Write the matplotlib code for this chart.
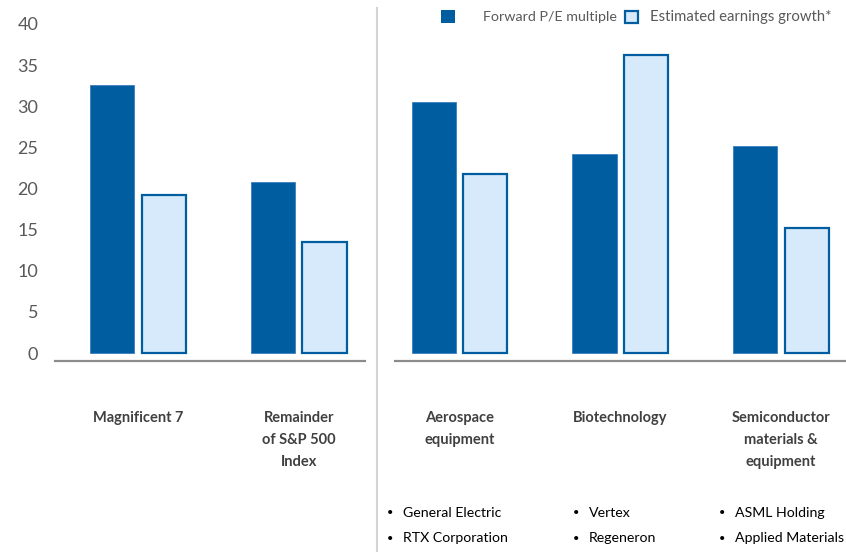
import matplotlib
matplotlib.use("Agg")
import matplotlib.pyplot as plt
from matplotlib.patches import Rectangle
import numpy as np

plt.rcParams['font.family'] = ['Lato', 'DejaVu Sans']

# Sector groups and their values
categories = ["Magnificent 7", "Remainder\nof S&P 500\nIndex", "Aerospace\nequipment",
              "Biotechnology", "Semiconductor\nmaterials &\nequipment"]
forward_pe = [32.6, 20.8, 30.5, 24.2, 25.2]
earnings_growth = [19.2, 13.5, 21.8, 36.2, 15.2]
y_ticks = [0, 5, 10, 15, 20, 25, 30, 35, 40]
companies = {
    2: ["General Electric", "RTX Corporation"],
    3: ["Vertex", "Regeneron"],
    4: ["ASML Holding", "Applied Materials"],
}

DARK = "#005DA0"
LIGHT = "#D6EAFB"
GREY_TEXT = "#595959"

W, H = 846, 552
fig = plt.figure(figsize=(W / 100, H / 100), dpi=100)

# axes placed in pixel terms: left edge at 55px, right edge at figure edge
ax_left, ax_right = 55, 846
ax_top, ax_bottom = 16, 361
ax = fig.add_axes([ax_left / W, 1 - ax_bottom / H, (ax_right - ax_left) / W, (ax_bottom - ax_top) / H])

px_per_group = 160.75
first_center = 138
x0 = (ax_left - first_center) / px_per_group
x1 = (ax_right - first_center) / px_per_group
ax.set_xlim(x0, x1)
px_per_unit = (353 - 24) / 40
ax.set_ylim(-(361 - 353) / px_per_unit, 40 + (24 - 16) / px_per_unit)

x = np.arange(len(categories))
bw = 0.275
off = 0.16
ax.bar(x - off, forward_pe, bw, color=DARK, edgecolor="#3a7fc0", linewidth=0.6, zorder=3)
ax.bar(x + off, earnings_growth, bw, color=LIGHT, edgecolor=DARK, linewidth=1.6, zorder=3)

for s in ax.spines.values():
    s.set_visible(False)
ax.set_xticks([])
ax.set_yticks(y_ticks)
ax.tick_params(axis="y", length=0, pad=12, labelsize=13, labelcolor=GREY_TEXT)

# broken baseline, one piece per panel
def frac(px):
    return (px - ax_left) / (ax_right - ax_left)

ax.axhline(ax.get_ylim()[0], xmin=0, xmax=frac(365), color="#8c8c8c", lw=1.6, clip_on=False)
ax.axhline(ax.get_ylim()[0], xmin=frac(395), xmax=1, color="#8c8c8c", lw=1.6, clip_on=False)

# divider between the index panel and the sector panel
fig.add_artist(plt.Line2D([377 / W, 377 / W], [0, 1 - 8 / H], color="#d4d4d4", lw=1.5))

# category labels under the baseline
for i, lab in enumerate(categories):
    cx = (first_center + i * px_per_group) / W
    fig.text(cx, 1 - 411 / H, lab, ha="center", va="top", fontsize=10.5, fontweight="bold",
             color="#404040", linespacing=1.72)

# example companies per sector
bullet_x = {2: 387, 3: 573, 4: 719}
for i, names in companies.items():
    for j, name in enumerate(names):
        y = 1 - (513 + j * 25) / H
        fig.text(bullet_x[i] / W, y, "\u2022", ha="left", va="center", fontsize=8, color="black")
        fig.text((bullet_x[i] + 16) / W, y, name, ha="left", va="center", fontsize=10.2, color="black")

# legend
fig.add_artist(Rectangle((441 / W, 1 - 23 / H), 14 / W, 13 / H, facecolor=DARK, edgecolor="none"))
fig.text(483 / W, 1 - 17 / H, "Forward P/E multiple", ha="left", va="center", fontsize=10.3, color=GREY_TEXT)
fig.add_artist(Rectangle((625 / W, 1 - 23 / H), 13 / W, 12 / H, facecolor=LIGHT, edgecolor=DARK, lw=1.6))
fig.text(650 / W, 1 - 17 / H, "Estimated earnings growth*", ha="left", va="center", fontsize=10.7, color=GREY_TEXT)

fig.savefig("out.png", dpi=100)
